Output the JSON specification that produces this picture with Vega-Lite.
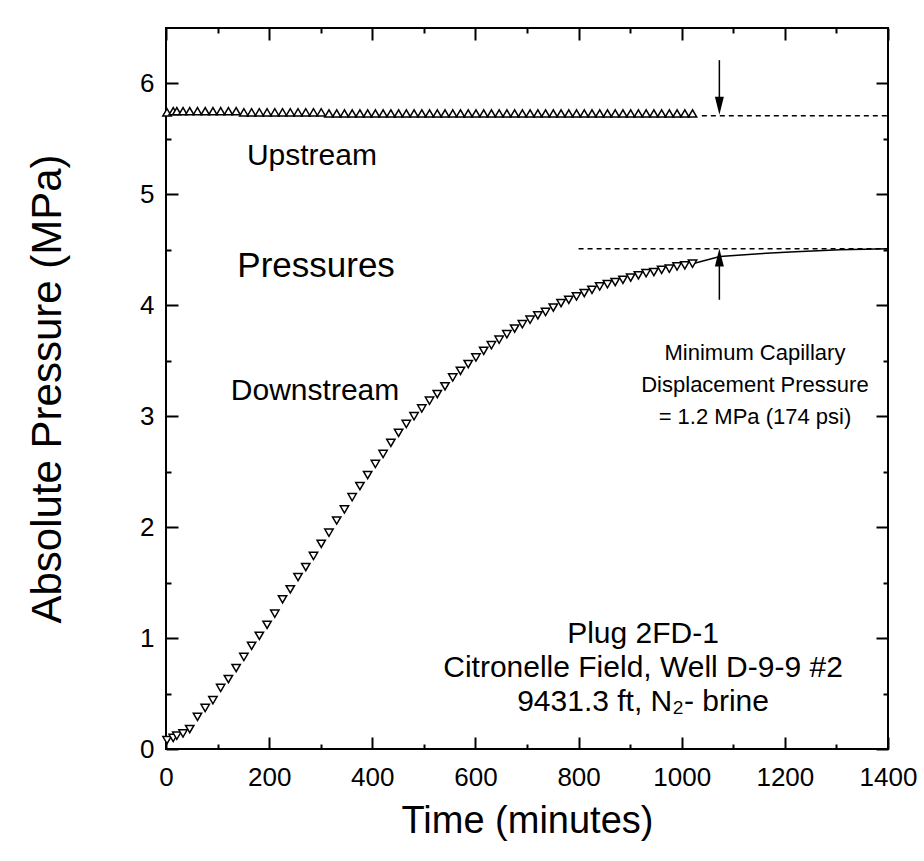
{
  "$schema": "https://vega.github.io/schema/vega-lite/v6.json",
  "autosize": {"type": "none"},
  "width": 722,
  "height": 721,
  "padding": {"left": 166, "top": 28, "right": 36, "bottom": 112},
  "background": "white",
  "config": {
    "view": {"stroke": "#000", "strokeWidth": 2},
    "font": "Liberation Sans",
    "axis": {"grid": false, "domain": false, "tickColor": "#000", "tickWidth": 2, "labelColor": "#000", "titleColor": "#000", "labelFont": "Liberation Sans", "titleFont": "Liberation Sans", "titleFontWeight": "normal", "labelFlush": false, "labelOverlap": false}
  },
  "datasets": {
    "down": [
      {"t": 2, "p": 0.08}, {"t": 14, "p": 0.10}, {"t": 21, "p": 0.12}, {"t": 33, "p": 0.14}, {"t": 46, "p": 0.18},
      {"t": 61, "p": 0.29}, {"t": 76, "p": 0.37}, {"t": 91, "p": 0.44}, {"t": 106, "p": 0.55}, {"t": 121, "p": 0.63},
      {"t": 136, "p": 0.73}, {"t": 151, "p": 0.83}, {"t": 166, "p": 0.93}, {"t": 181, "p": 1.02}, {"t": 196, "p": 1.12},
      {"t": 211, "p": 1.22}, {"t": 226, "p": 1.35}, {"t": 241, "p": 1.44}, {"t": 256, "p": 1.55}, {"t": 271, "p": 1.64},
      {"t": 286, "p": 1.74}, {"t": 301, "p": 1.85}, {"t": 316, "p": 1.95}, {"t": 331, "p": 2.06}, {"t": 346, "p": 2.16},
      {"t": 361, "p": 2.27}, {"t": 376, "p": 2.37}, {"t": 391, "p": 2.47}, {"t": 406, "p": 2.57}, {"t": 421, "p": 2.66},
      {"t": 436, "p": 2.76}, {"t": 451, "p": 2.85}, {"t": 466, "p": 2.93}, {"t": 481, "p": 3.00}, {"t": 496, "p": 3.07},
      {"t": 511, "p": 3.14}, {"t": 526, "p": 3.20}, {"t": 541, "p": 3.27}, {"t": 556, "p": 3.35}, {"t": 571, "p": 3.41},
      {"t": 586, "p": 3.47}, {"t": 601, "p": 3.53}, {"t": 616, "p": 3.59}, {"t": 631, "p": 3.64}, {"t": 646, "p": 3.69},
      {"t": 661, "p": 3.74}, {"t": 676, "p": 3.79}, {"t": 691, "p": 3.83}, {"t": 706, "p": 3.87}, {"t": 721, "p": 3.91},
      {"t": 736, "p": 3.94}, {"t": 751, "p": 3.98}, {"t": 766, "p": 4.02}, {"t": 781, "p": 4.05}, {"t": 796, "p": 4.08},
      {"t": 811, "p": 4.11}, {"t": 826, "p": 4.14}, {"t": 841, "p": 4.17}, {"t": 856, "p": 4.19}, {"t": 871, "p": 4.21},
      {"t": 886, "p": 4.23}, {"t": 901, "p": 4.25}, {"t": 916, "p": 4.27}, {"t": 931, "p": 4.29}, {"t": 946, "p": 4.30},
      {"t": 961, "p": 4.32}, {"t": 976, "p": 4.33}, {"t": 991, "p": 4.35}, {"t": 1006, "p": 4.36}, {"t": 1021, "p": 4.375}
    ],
    "up": [
      {"t": 2, "p": 5.74}, {"t": 14, "p": 5.75}, {"t": 21, "p": 5.75}, {"t": 33, "p": 5.75}, {"t": 46, "p": 5.75},
      {"t": 61, "p": 5.75}, {"t": 76, "p": 5.75}, {"t": 91, "p": 5.75}, {"t": 106, "p": 5.75}, {"t": 121, "p": 5.75},
      {"t": 136, "p": 5.75}, {"t": 151, "p": 5.74}, {"t": 166, "p": 5.74}, {"t": 181, "p": 5.74}, {"t": 196, "p": 5.74},
      {"t": 211, "p": 5.74}, {"t": 226, "p": 5.74}, {"t": 241, "p": 5.74}, {"t": 256, "p": 5.74}, {"t": 271, "p": 5.74},
      {"t": 286, "p": 5.74}, {"t": 301, "p": 5.74}, {"t": 316, "p": 5.73}, {"t": 331, "p": 5.73}, {"t": 346, "p": 5.73},
      {"t": 361, "p": 5.73}, {"t": 376, "p": 5.73}, {"t": 391, "p": 5.73}, {"t": 406, "p": 5.73}, {"t": 421, "p": 5.73},
      {"t": 436, "p": 5.73}, {"t": 451, "p": 5.73}, {"t": 466, "p": 5.73}, {"t": 481, "p": 5.73}, {"t": 496, "p": 5.73},
      {"t": 511, "p": 5.73}, {"t": 526, "p": 5.73}, {"t": 541, "p": 5.73}, {"t": 556, "p": 5.73}, {"t": 571, "p": 5.73},
      {"t": 586, "p": 5.73}, {"t": 601, "p": 5.73}, {"t": 616, "p": 5.73}, {"t": 631, "p": 5.73}, {"t": 646, "p": 5.73},
      {"t": 661, "p": 5.73}, {"t": 676, "p": 5.73}, {"t": 691, "p": 5.73}, {"t": 706, "p": 5.73}, {"t": 721, "p": 5.73},
      {"t": 736, "p": 5.73}, {"t": 751, "p": 5.73}, {"t": 766, "p": 5.73}, {"t": 781, "p": 5.73}, {"t": 796, "p": 5.73},
      {"t": 811, "p": 5.73}, {"t": 826, "p": 5.73}, {"t": 841, "p": 5.73}, {"t": 856, "p": 5.73}, {"t": 871, "p": 5.73},
      {"t": 886, "p": 5.73}, {"t": 901, "p": 5.73}, {"t": 916, "p": 5.73}, {"t": 931, "p": 5.73}, {"t": 946, "p": 5.73},
      {"t": 961, "p": 5.73}, {"t": 976, "p": 5.73}, {"t": 991, "p": 5.73}, {"t": 1006, "p": 5.73}, {"t": 1021, "p": 5.73}
    ],
    "fit": [
      {"t": 1021, "p": 4.375}, {"t": 1074, "p": 4.44}, {"t": 1150, "p": 4.465}, {"t": 1210, "p": 4.48},
      {"t": 1307, "p": 4.50}, {"t": 1400, "p": 4.51}
    ],
    "dash": [
      {"g": "up", "t": 1039, "p": 5.71}, {"g": "up", "t": 1400, "p": 5.71},
      {"g": "down", "t": 800, "p": 4.51}, {"g": "down", "t": 1400, "p": 4.51}
    ],
    "arrows": [
      {"dir": "down", "t": 1073, "p1": 6.21, "p2": 5.80},
      {"dir": "up", "t": 1073, "p1": 4.05, "p2": 4.43}
    ],
    "labels": [
      {"kind": "mid", "t": 283, "p": 5.35, "label": "Upstream"},
      {"kind": "mid", "t": 289, "p": 3.23, "label": "Downstream"},
      {"kind": "big", "t": 291, "p": 4.35, "label": "Pressures"},
      {"kind": "note", "t": 1142, "p": 3.57, "label": "Minimum Capillary\nDisplacement Pressure\n= 1.2 MPa (174 psi)"},
      {"kind": "plug", "t": 925, "p": 1.04, "label": "Plug 2FD-1\nCitronelle Field, Well D-9-9 #2\n9431.3 ft, N₂- brine"}
    ]
  },
  "resolve": {"axis": {"x": "independent", "y": "independent"}},
  "layer": [
    {
      "data": {"name": "fit"},
      "mark": {"type": "line", "color": "#000", "strokeWidth": 1.5},
      "encoding": {
        "x": {"field": "t", "type": "quantitative", "scale": {"domain": [0, 1400], "nice": false, "zero": false},
              "axis": {"orient": "top", "values": [0, 200, 400, 600, 800, 1000, 1200, 1400], "tickSize": -12, "labels": false, "title": null}},
        "y": {"field": "p", "type": "quantitative", "scale": {"domain": [0, 6.5], "nice": false, "zero": false},
              "axis": {"orient": "right", "values": [0, 1, 2, 3, 4, 5, 6], "tickSize": -12, "labels": false, "title": null}}
      }
    },
    {
      "data": {"name": "dash"},
      "mark": {"type": "line", "color": "#000", "strokeWidth": 1.5, "strokeDash": [5, 4]},
      "encoding": {
        "x": {"field": "t", "type": "quantitative",
              "axis": {"orient": "top", "values": [100, 300, 500, 700, 900, 1100, 1300], "tickSize": -5, "labels": false, "title": null}},
        "y": {"field": "p", "type": "quantitative",
              "axis": {"orient": "right", "values": [0.5, 1.5, 2.5, 3.5, 4.5, 5.5], "tickSize": -5, "labels": false, "title": null}},
        "detail": {"field": "g"}
      }
    },
    {
      "data": {"name": "arrows"},
      "mark": {"type": "rule", "color": "#000", "strokeWidth": 1.5},
      "encoding": {
        "x": {"field": "t", "type": "quantitative", "axis": null},
        "y": {"field": "p1", "type": "quantitative", "axis": null},
        "y2": {"field": "p2"}
      }
    },
    {
      "data": {"name": "arrows"},
      "transform": [{"filter": "datum.dir == 'down'"}],
      "mark": {"type": "point", "shape": "M-0.5,-1L0.5,-1L0,1Z", "size": 324, "filled": true, "color": "#000", "opacity": 1},
      "encoding": {
        "x": {"field": "t", "type": "quantitative", "axis": null},
        "y": {"field": "p2", "type": "quantitative", "axis": null}
      }
    },
    {
      "data": {"name": "arrows"},
      "transform": [{"filter": "datum.dir == 'up'"}],
      "mark": {"type": "point", "shape": "M0,-1L0.5,1L-0.5,1Z", "size": 324, "filled": true, "color": "#000", "opacity": 1},
      "encoding": {
        "x": {"field": "t", "type": "quantitative", "axis": null},
        "y": {"field": "p2", "type": "quantitative", "axis": null}
      }
    },
    {
      "data": {"name": "up"},
      "mark": {"type": "point", "shape": "triangle-up", "size": 70, "filled": false, "fill": "white", "fillOpacity": 1, "stroke": "#000", "strokeWidth": 1.5, "opacity": 1},
      "encoding": {
        "x": {"field": "t", "type": "quantitative",
              "axis": {"orient": "bottom", "values": [100, 300, 500, 700, 900, 1100, 1300], "tickSize": -5, "labels": false, "title": null}},
        "y": {"field": "p", "type": "quantitative",
              "axis": {"orient": "left", "values": [0.5, 1.5, 2.5, 3.5, 4.5, 5.5], "tickSize": -5, "labels": false, "title": null}}
      }
    },
    {
      "data": {"name": "down"},
      "mark": {"type": "point", "shape": "triangle-down", "size": 70, "filled": false, "fill": "white", "fillOpacity": 1, "stroke": "#000", "strokeWidth": 1.5, "opacity": 1},
      "encoding": {
        "x": {"field": "t", "type": "quantitative",
              "axis": {"orient": "bottom", "values": [0, 200, 400, 600, 800, 1000, 1200, 1400], "format": "d", "tickSize": -12, "labelFontSize": 26, "labelPadding": 27,
                       "title": "Time (minutes)", "titleFontSize": 38, "titlePadding": 12}},
        "y": {"field": "p", "type": "quantitative",
              "axis": {"orient": "left", "values": [0, 1, 2, 3, 4, 5, 6], "format": "d", "tickSize": -12, "labelFontSize": 26, "labelPadding": 24,
                       "title": "Absolute Pressure (MPa)", "titleFontSize": 42, "titlePadding": 70}}
      }
    },
    {
      "data": {"name": "labels"},
      "transform": [{"filter": "datum.kind == 'mid'"}],
      "mark": {"type": "text", "fontSize": 30, "color": "#000", "align": "center", "baseline": "middle"},
      "encoding": {
        "x": {"field": "t", "type": "quantitative", "axis": null},
        "y": {"field": "p", "type": "quantitative", "axis": null},
        "text": {"field": "label"}
      }
    },
    {
      "data": {"name": "labels"},
      "transform": [{"filter": "datum.kind == 'big'"}],
      "mark": {"type": "text", "fontSize": 35, "color": "#000", "align": "center", "baseline": "middle"},
      "encoding": {
        "x": {"field": "t", "type": "quantitative", "axis": null},
        "y": {"field": "p", "type": "quantitative", "axis": null},
        "text": {"field": "label"}
      }
    },
    {
      "data": {"name": "labels"},
      "transform": [{"filter": "datum.kind == 'note'"}],
      "mark": {"type": "text", "fontSize": 22, "lineHeight": 32, "lineBreak": "\n", "color": "#000", "align": "center", "baseline": "middle"},
      "encoding": {
        "x": {"field": "t", "type": "quantitative", "axis": null},
        "y": {"field": "p", "type": "quantitative", "axis": null},
        "text": {"field": "label"}
      }
    },
    {
      "data": {"name": "labels"},
      "transform": [{"filter": "datum.kind == 'plug'"}],
      "mark": {"type": "text", "fontSize": 30, "lineHeight": 34, "lineBreak": "\n", "color": "#000", "align": "center", "baseline": "middle"},
      "encoding": {
        "x": {"field": "t", "type": "quantitative", "axis": null},
        "y": {"field": "p", "type": "quantitative", "axis": null},
        "text": {"field": "label"}
      }
    }
  ]
}
